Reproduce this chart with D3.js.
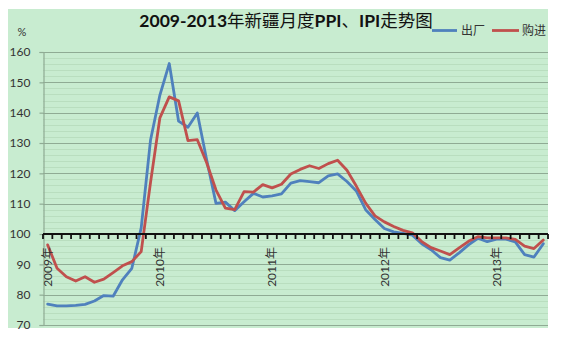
<!DOCTYPE html>
<html>
<head>
<meta charset="utf-8">
<script src="https://cdn.jsdelivr.net/npm/d3@7"></script>
<style>
  html, body { margin: 0; padding: 0; background: #ffffff; }
  svg { display: block; }
</style>
</head>
<body>
<svg id="chart" width="563" height="337"></svg>
<script>
// Monthly ex-factory (出厂) and purchase (购进) price indices, Jan 2009 – Jun 2013
const years = [2009, 2010, 2011, 2012, 2013];
const monthsPerYear = [12, 12, 12, 12, 6];
const yearLabels = ["2009年", "2010年", "2011年", "2012年", "2013年"];
const yTicks = [70, 80, 90, 100, 110, 120, 130, 140, 150, 160];

const ppi = [
  76.9, 76.3, 76.3, 76.5, 76.8, 77.9, 79.7, 79.5, 84.9, 88.7, 102.0, 131.0,
  145.8, 156.2, 137.2, 135.2, 139.9, 124.5, 110.1, 110.5, 107.7, 110.6, 113.4, 112.2,
  112.6, 113.2, 116.8, 117.6, 117.3, 116.9, 119.2, 119.8, 117.3, 114.2, 108.0, 104.8,
  101.8, 100.7, 100.2, 99.6, 96.8, 94.8, 92.2, 91.4, 93.8, 96.4, 98.6, 97.5,
  98.3, 98.3, 97.4, 93.2, 92.4, 96.8
];
const ipi = [
  96.4, 88.7, 85.9, 84.5, 85.9, 84.1, 85.1, 87.3, 89.5, 90.9, 94.2, 117.0,
  138.3, 145.2, 143.9, 130.8, 131.1, 123.5, 114.5, 108.5, 108.0, 114.0, 113.8, 116.3,
  115.2, 116.4, 119.8, 121.3, 122.5, 121.6, 123.2, 124.3, 121.0, 115.8, 110.2, 106.0,
  104.0, 102.5, 101.2, 100.4, 97.5, 95.5, 94.4, 93.2, 95.4, 97.6, 99.1, 98.7,
  98.7, 98.7, 98.2, 96.0, 95.2, 98.0
];

const seriesNames = ["出厂", "购进"];
const seriesColors = ["#4f81bd", "#c0504d"];

// Category keys, one per month
const categories = [];
years.forEach((y, yi) => {
  for (let m = 1; m <= monthsPerYear[yi]; m++) categories.push(y + "-" + String(m).padStart(2, "0"));
});
const yearStart = {};
years.forEach((y, yi) => { yearStart[y + "-01"] = yearLabels[yi]; });

const svg = d3.select("#chart");
const plot = { left: 43, right: 548, top: 52, bottom: 325 };

// chart background
svg.append("rect")
  .attr("x", 8).attr("y", 9).attr("width", 540).attr("height", 319)
  .attr("fill", "#c8ecd0");

const x = d3.scaleBand().domain(categories).range([plot.left, plot.right]).paddingInner(0).paddingOuter(0);
const y = d3.scaleLinear().domain([70, 160]).range([plot.bottom, plot.top]);
const cx = d => x(d) + x.bandwidth() / 2;

// minor gridlines
svg.append("g")
  .selectAll("line")
  .data(d3.range(72, 160, 2).filter(v => v % 10 !== 0))
  .join("line")
  .attr("x1", plot.left).attr("x2", plot.right)
  .attr("y1", d => Math.round(y(d)) + 0.5).attr("y2", d => Math.round(y(d)) + 0.5)
  .attr("stroke", "#b9debf").attr("stroke-width", 1);

// major gridlines
svg.append("g")
  .selectAll("line")
  .data(yTicks.filter(v => v !== 100))
  .join("line")
  .attr("x1", plot.left).attr("x2", plot.right)
  .attr("y1", d => Math.round(y(d)) + 0.5).attr("y2", d => Math.round(y(d)) + 0.5)
  .attr("stroke", "#8fab94").attr("stroke-width", 1.2);

// y axis
const yAxis = svg.append("g")
  .attr("transform", `translate(${plot.left + 0.5},0)`)
  .call(d3.axisLeft(y).tickValues(yTicks).tickSize(4).tickPadding(9).tickFormat(d3.format("d")));
yAxis.select(".domain").attr("stroke", "#8fab94").attr("stroke-width", 1.2);
yAxis.selectAll(".tick line").attr("stroke", "#8fab94").attr("stroke-width", 1.2);
yAxis.selectAll(".tick text")
  .attr("fill", "#333333")
  .style("font-family", "Lato, 'Open Sans', sans-serif")
  .style("font-size", "12px");

// series lines
const lineGen = d3.line().x((d, i) => cx(categories[i])).y(d => y(d));
[ppi, ipi].forEach((vals, si) => {
  svg.append("path")
    .datum(vals)
    .attr("d", lineGen)
    .attr("fill", "none")
    .attr("stroke", seriesColors[si])
    .attr("stroke-width", 2.8)
    .attr("stroke-linejoin", "round")
    .attr("stroke-linecap", "round");
});

// x axis crossing at 100
const y100 = Math.round(y(100));
const xAxis = svg.append("g").attr("transform", `translate(0,${y100})`);
xAxis.append("line")
  .attr("x1", plot.left).attr("x2", plot.right)
  .attr("y1", 0).attr("y2", 0)
  .attr("stroke", "#111111").attr("stroke-width", 2.2);
xAxis.selectAll("line.tk")
  .data(categories.map(c => x(c)).concat([plot.right]))
  .join("line")
  .attr("class", "tk")
  .attr("x1", d => d).attr("x2", d => d)
  .attr("y1", 0).attr("y2", 5)
  .attr("stroke", "#111111").attr("stroke-width", 1.8);

// year labels, rotated
svg.append("g")
  .selectAll("text")
  .data(categories.filter(c => yearStart[c]))
  .join("text")
  .attr("transform", d => `translate(${cx(d)},${y100 + 13}) rotate(-90)`)
  .attr("text-anchor", "end")
  .attr("dy", "0.35em")
  .attr("fill", "#333333")
  .style("font-family", "Lato, 'Noto Sans CJK SC', sans-serif")
  .style("font-size", "12px")
  .text(d => yearStart[d]);

// unit label
svg.append("text")
  .attr("x", 22).attr("y", 36)
  .attr("text-anchor", "middle")
  .attr("fill", "#333333")
  .style("font-family", "Lato, sans-serif")
  .style("font-size", "11px")
  .text("%");

// title
const title = svg.append("text")
  .attr("x", 286).attr("y", 27)
  .attr("text-anchor", "middle")
  .attr("fill", "#111111")
  .style("font-size", "17.5px");
const titleParts = [
  ["2009-2013", true], ["年新疆月度", false], ["PPI", true], ["、", false],
  ["IPI", true], ["走势图", false]
];
titleParts.forEach(([t, latin]) => {
  title.append("tspan")
    .style("font-family", latin ? "Lato, sans-serif" : "'Noto Sans CJK SC', sans-serif")
    .style("font-weight", latin ? "bold" : "normal")
    .text(t);
});

// legend
const legend = svg.append("g");
const legendItems = [
  { name: seriesNames[0], color: seriesColors[0], x1: 432, x2: 457, tx: 461 },
  { name: seriesNames[1], color: seriesColors[1], x1: 492, x2: 519, tx: 522 }
];
legendItems.forEach(it => {
  legend.append("line")
    .attr("x1", it.x1).attr("x2", it.x2).attr("y1", 30.5).attr("y2", 30.5)
    .attr("stroke", it.color).attr("stroke-width", 2.8);
  legend.append("text")
    .attr("x", it.tx).attr("y", 35)
    .attr("fill", "#333333")
    .style("font-family", "'Noto Sans CJK SC', sans-serif")
    .style("font-size", "12px")
    .text(it.name);
});
</script>
</body>
</html>
